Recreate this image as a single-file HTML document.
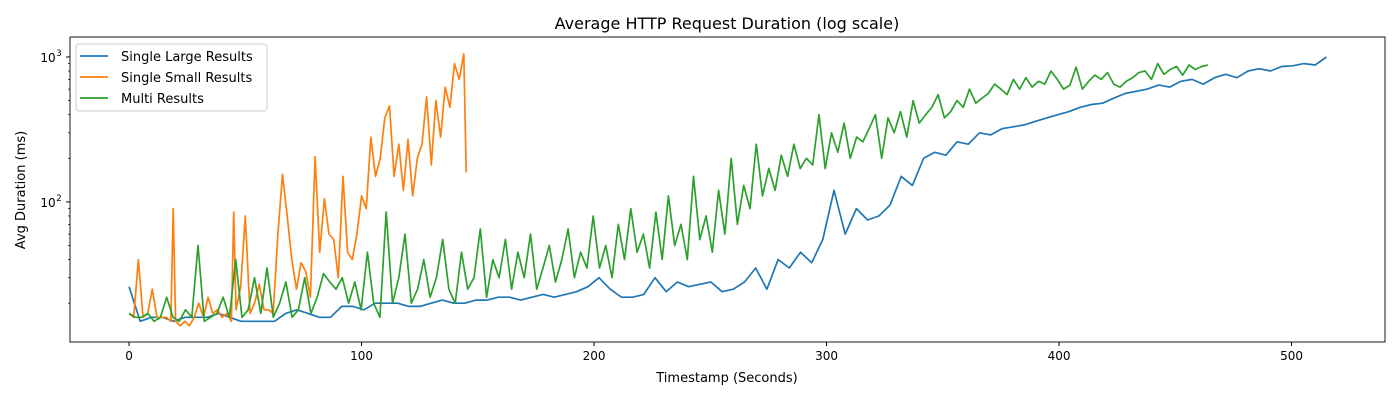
<!DOCTYPE html>
<html><head><meta charset="utf-8"><style>
body{margin:0;background:#fff;}
svg{display:block;font-family:"DejaVu Sans","Liberation Sans",sans-serif;}
</style></head><body>
<svg id="chart" width="1400" height="400"></svg>
<script>
const xTicks=[0,100,200,300,400,500];
const yMajor=[100,1000];
const yMajorLabels=["10","10"];
const blueEnd=515;
const blueVals=[26,15,16,16,15,16,16,16,17,16,15,15,15,15,17,18,17,16,16,19,19,18,20,20,20,19,19,20,21,20,20,21,21,22,22,21,22,23,22,23,24,26,30,25,22,22,23,30,24,28,26,27,28,24,25,28,35,25,40,35,45,38,55,120,60,90,75,80,95,150,130,200,220,210,260,250,300,290,320,330,340,360,380,400,420,450,470,480,520,560,580,600,640,620,680,700,650,720,760,720,800,830,800,860,870,900,880,1000];
const greenEnd=464;
const greenVals=[17,16,16,17,15,16,22,16,15,18,16,50,15,16,17,
22,16,40,16,18,30,17,35,16,20,28,16,18,30,17,22,32,28,25,30,20,28,
18,45,20,16,85,20,30,60,20,25,40,22,30,55,25,20,45,25,30,65,22,40,30,55,25,45,30,60,25,35,50,28,40,65,30,45,35,
80,35,50,30,70,40,90,45,60,35,85,40,110,50,70,40,150,55,80,45,120,60,
200,70,130,90,250,110,170,120,210,150,250,170,200,180,400,
170,300,220,350,200,280,260,320,400,200,380,300,420,280,500,350,400,450,550,
380,420,500,450,600,480,520,560,650,600,550,700,600,720,620,680,650,800,700,
600,640,850,600,680,750,700,780,650,620,680,720,780,800,700,900,760,820,860,750,880,820,860,880];
const orangeX=[0,2,4,6,8,10,12,14,16,18,19,20,22,24,26,28,30,32,34,36,38,40,42,44,45,46,48,50,52,54,56,58,60,62,64,66,68,70,72,74,76,78,80,82,84,86,88,90,92,94,96,98,100,102,104,106,108,110,112,114,116,118,120,122,124,126,128,130,132,134,136,138,140,142,144,145];
const orangeVals=[17,16,40,16,17,25,16,16,16,15,90,15,14,15,14,16,20,16,22,17,18,16,17,15,85,18,26,80,17,20,27,18,18,17,60,155,80,40,25,38,33,22,205,45,105,60,55,30,150,45,40,60,110,90,280,150,200,380,460,150,250,120,270,110,200,250,530,180,500,280,620,450,900,700,1050,160];
const series=[
 {name:"Single Large Results",color:"#1f77b4",xs:blueVals.map((v,i)=>i*blueEnd/(blueVals.length-1)),ys:blueVals},
 {name:"Single Small Results",color:"#ff7f0e",xs:orangeX,ys:orangeVals},
 {name:"Multi Results",color:"#2ca02c",xs:greenVals.map((v,i)=>i*greenEnd/(greenVals.length-1)),ys:greenVals}
];
const L=70,R=1385,T=37,B=342;
const xmin=-25.4,xmax=540.2,lmin=Math.log10(10.8),lmax=Math.log10(1374);
const sx=x=>L+(x-xmin)/(xmax-xmin)*(R-L);
const sy=v=>B-(Math.log10(v)-lmin)/(lmax-lmin)*(B-T);
const svg=document.getElementById('chart');
const NS="http://www.w3.org/2000/svg";
function mk(t,a,p){const e=document.createElementNS(NS,t);for(const k in a)e.setAttribute(k,a[k]);(p||svg).appendChild(e);return e;}
let t=mk('text',{x:727,y:29,'text-anchor':'middle','font-size':16,fill:'#000'});t.textContent="Average HTTP Request Duration (log scale)";


const clip=mk('clipPath',{id:'c'});mk('rect',{x:L,y:T,width:R-L,height:B-T},clip);
const g=mk('g',{'clip-path':'url(#c)'});
series.forEach(s=>{
 const d=s.xs.map((x,i)=>(i?'L':'M')+sx(x).toFixed(1)+','+sy(s.ys[i]).toFixed(1)).join('');
 const p=mk('path',{d:d,fill:'none',stroke:s.color,'stroke-width':1.7,'stroke-linejoin':'round'},g);
 
 
});
const frame=mk('rect',{x:L,y:T,width:R-L,height:B-T,fill:'none',stroke:'#000','stroke-width':0.9});


xTicks.forEach(v=>{const x=sx(v);mk('line',{x1:x,x2:x,y1:B,y2:B+4,stroke:'#000'});
 const tx=mk('text',{x:x,y:B+18,'text-anchor':'middle','font-size':12});tx.textContent=v;
 
 });
yMajor.forEach((v,i)=>{const y=sy(v);mk('line',{x1:L-4,x2:L,y1:y,y2:y,stroke:'#000'});
 const tx=mk('text',{x:L-22,y:y+5,'text-anchor':'middle','font-size':12});tx.textContent=yMajorLabels[i];
 const sup=mk('text',{x:L-11,y:y-1,'text-anchor':'middle','font-size':8.5});sup.textContent=String(Math.round(Math.log10(v)));
 
 });
[20,30,40,50,60,70,80,90,200,300,400,500,600,700,800,900].forEach(v=>{const y=sy(v);mk('line',{x1:L-2,x2:L,y1:y,y2:y,stroke:'#000','stroke-width':0.7});});
t=mk('text',{x:727,y:382,'text-anchor':'middle','font-size':13});t.textContent="Timestamp (Seconds)";


t=mk('text',{x:25,y:190,'text-anchor':'middle','font-size':13,transform:'rotate(-90 25 190)'});t.textContent="Avg Duration (ms)";


const lg=mk('g',{});


mk('rect',{x:76,y:44,width:191,height:67,rx:3,fill:'#fff','fill-opacity':0.8,stroke:'#ccc'},lg);
series.forEach((s,i)=>{const y=56+i*21;mk('line',{x1:80,x2:108,y1:y,y2:y,stroke:s.color,'stroke-width':1.7},lg);
 const e=mk('text',{x:121,y:y+5,'font-size':13},lg);e.textContent=s.name;
 
 });
</script>
</body></html>
